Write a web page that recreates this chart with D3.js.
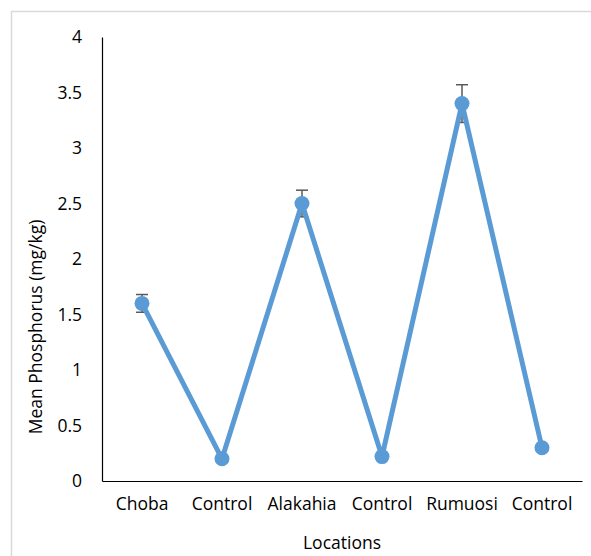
<!DOCTYPE html>
<html>
<head>
<meta charset="utf-8">
<script src="https://cdn.jsdelivr.net/npm/d3@7"></script>
<style>
  body { margin: 0; background: #fff; }
  text { font-family: "Open Sans", sans-serif; fill: #000; }
</style>
</head>
<body>
<svg id="chart" width="591" height="556"></svg>
<script>
/* DATA */
const locations = ["Choba", "Control", "Alakahia", "Control", "Rumuosi", "Control"];
const meanP = [1.6, 0.2, 2.5, 0.22, 3.4, 0.3];
const errP = [0.08, 0, 0.12, 0, 0.17, 0];
const yTicks = [0, 0.5, 1, 1.5, 2, 2.5, 3, 3.5, 4];

const margin = { top: 37, left: 102, right: 9, bottom: 75 };
const width = 591, height = 556;
const fontSize = 17.5;

const svg = d3.select("#chart");

// outer chart border
svg.append("rect")
  .attr("x", 11.5).attr("y", 11.5)
  .attr("width", 600).attr("height", 600)
  .attr("fill", "none")
  .attr("stroke", "#d9d9d9")
  .attr("stroke-width", 1.5);

const data = locations.map((loc, i) => ({ i: i, loc: loc, v: meanP[i], e: errP[i] }));

const xScale = d3.scaleBand()
  .domain(d3.range(locations.length))
  .range([margin.left, width - margin.right]);

const yScale = d3.scaleLinear()
  .domain([0, 4])
  .range([height - margin.bottom, margin.top]);

const cx = i => xScale(i) + xScale.bandwidth() / 2;

// y axis
const yAxisGroup = svg.append("g")
  .attr("transform", `translate(${margin.left},0)`)
  .call(d3.axisLeft(yScale).tickValues(yTicks).tickSize(0).tickPadding(20).tickFormat(d3.format("")));
yAxisGroup.select(".domain").attr("stroke", "#000").attr("stroke-width", 1.2);
yAxisGroup.selectAll("text").attr("font-size", fontSize).attr("font-family", "Open Sans");

// x axis
const xAxisGroup = svg.append("g")
  .attr("transform", `translate(0,${height - margin.bottom})`)
  .call(d3.axisBottom(xScale).tickSize(0).tickPadding(17).tickFormat(i => locations[i]));
xAxisGroup.select(".domain").attr("stroke", "#000").attr("stroke-width", 1.2);
xAxisGroup.selectAll("text").attr("font-size", fontSize).attr("font-family", "Open Sans");

// axis titles
svg.append("text")
  .attr("x", (margin.left + width - margin.right) / 2)
  .attr("y", 549)
  .attr("text-anchor", "middle")
  .attr("font-size", fontSize)
  .text("Locations");

svg.append("text")
  .attr("transform", "translate(42,327) rotate(-90)")
  .attr("text-anchor", "middle")
  .attr("font-size", fontSize)
  .text("Mean Phosphorus (mg/kg)");

// error bars
const errs = svg.append("g")
  .selectAll("g")
  .data(data.filter(d => d.e > 0))
  .join("g")
  .attr("stroke", "#595959")
  .attr("stroke-width", 1.5);
errs.append("line")
  .attr("x1", d => cx(d.i)).attr("x2", d => cx(d.i))
  .attr("y1", d => yScale(d.v - d.e)).attr("y2", d => yScale(d.v + d.e));
errs.append("line")
  .attr("x1", d => cx(d.i) - 6).attr("x2", d => cx(d.i) + 6)
  .attr("y1", d => yScale(d.v + d.e)).attr("y2", d => yScale(d.v + d.e));
errs.append("line")
  .attr("x1", d => cx(d.i) - 6).attr("x2", d => cx(d.i) + 6)
  .attr("y1", d => yScale(d.v - d.e)).attr("y2", d => yScale(d.v - d.e));

// line
const lineFunction = d3.line()
  .x(d => cx(d.i))
  .y(d => yScale(d.v));

svg.append("path")
  .datum(data)
  .attr("d", lineFunction)
  .attr("fill", "none")
  .attr("stroke", "#5b9bd5")
  .attr("stroke-width", 5)
  .attr("stroke-linejoin", "round");

// markers
svg.selectAll(".dot")
  .data(data)
  .join("circle")
  .attr("class", "dot")
  .attr("cx", d => cx(d.i))
  .attr("cy", d => yScale(d.v))
  .attr("r", 7.5)
  .attr("fill", "#5b9bd5");
</script>
</body>
</html>
